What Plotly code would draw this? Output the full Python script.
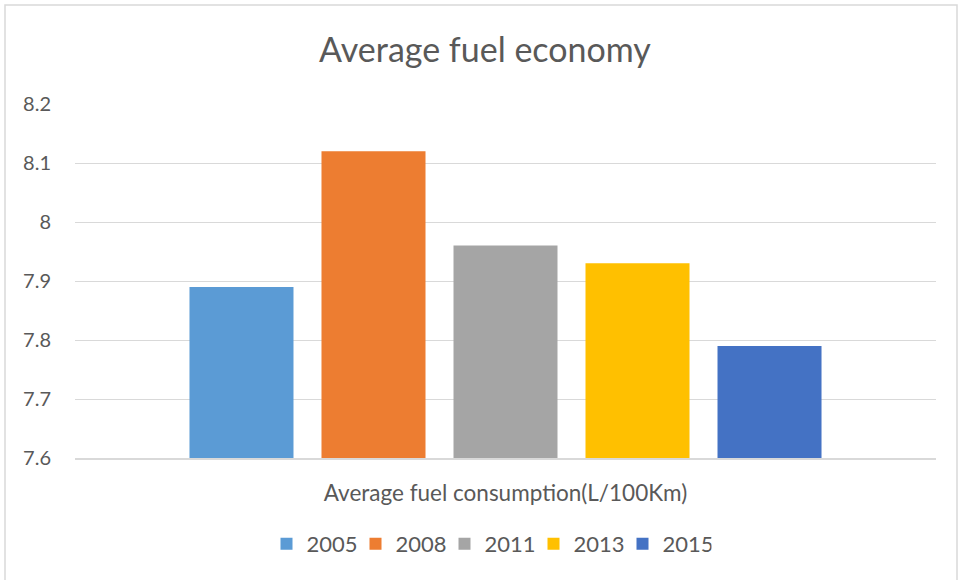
import plotly.graph_objects as go

category = ["Average fuel consumption(L/100Km)"]
years = ["2005", "2008", "2011", "2013", "2015"]
values = [7.89, 8.12, 7.96, 7.93, 7.79]
colors = ["#5B9BD5", "#ED7D31", "#A5A5A5", "#FFC000", "#4472C4"]
y_ticks = [7.6, 7.7, 7.8, 7.9, 8.0, 8.1, 8.2]
y_tick_labels = ["7.6", "7.7", "7.8", "7.9", "8", "8.1", "8.2"]

FONT = "Lato, 'Open Sans', sans-serif"
W, H = 958, 580
ml, mr, mt, mb = 75, 22, 104, 122
pw = W - ml - mr
ph = H - mt - mb

fig = go.Figure()
for yr, v, c in zip(years, values, colors):
    fig.add_trace(go.Bar(x=category, y=[v], name=yr, marker=dict(color=c, line=dict(width=0))))

fig.update_layout(
    width=W, height=H,
    margin=dict(l=ml, r=mr, t=mt, b=mb, autoexpand=False),
    paper_bgcolor="white", plot_bgcolor="white",
    barmode="group", bargap=0.2334, bargroupgap=0.2121,
    font=dict(family=FONT, color="#595959", size=20),
    title=dict(text="Average fuel economy", font=dict(family=FONT, size=34, color="#595959"),
               xref="container", x=485 / W, xanchor="center",
               yref="container", y=1 - 50 / H, yanchor="middle"),
    showlegend=True,
    legend=dict(orientation="h", xref="paper", x=(489 - ml) / pw, xanchor="center",
                yref="paper", y=(mt + ph - 544) / ph, yanchor="middle",
                font=dict(family=FONT, size=22, color="#595959"),
                itemwidth=30, entrywidth=44, entrywidthmode="pixels",
                bgcolor="rgba(0,0,0,0)"),
    shapes=[dict(type="rect", xref="paper", yref="paper",
                 x0=(5 - ml) / pw, x1=(957 - ml) / pw,
                 y0=-(H - (mt + ph) + 10) / ph, y1=(mt + ph - 5) / ph,
                 line=dict(color="#D9D9D9", width=1.5), fillcolor="rgba(0,0,0,0)", layer="below")],
)
fig.update_yaxes(range=[7.6, 8.2], tickvals=y_ticks, ticktext=y_tick_labels,
                 showgrid=True, gridcolor="#D9D9D9", gridwidth=1, zeroline=False,
                 showline=False, ticks="", ticklabelstandoff=23,
                 tickfont=dict(family=FONT, size=20, color="#595959"))
fig.update_xaxes(showgrid=False, showline=True, linecolor="#D9D9D9", linewidth=1.5,
                 ticks="", ticklabelstandoff=14,
                 tickfont=dict(family=FONT, size=22.5, color="#595959"))

fig.write_html("out.html")
